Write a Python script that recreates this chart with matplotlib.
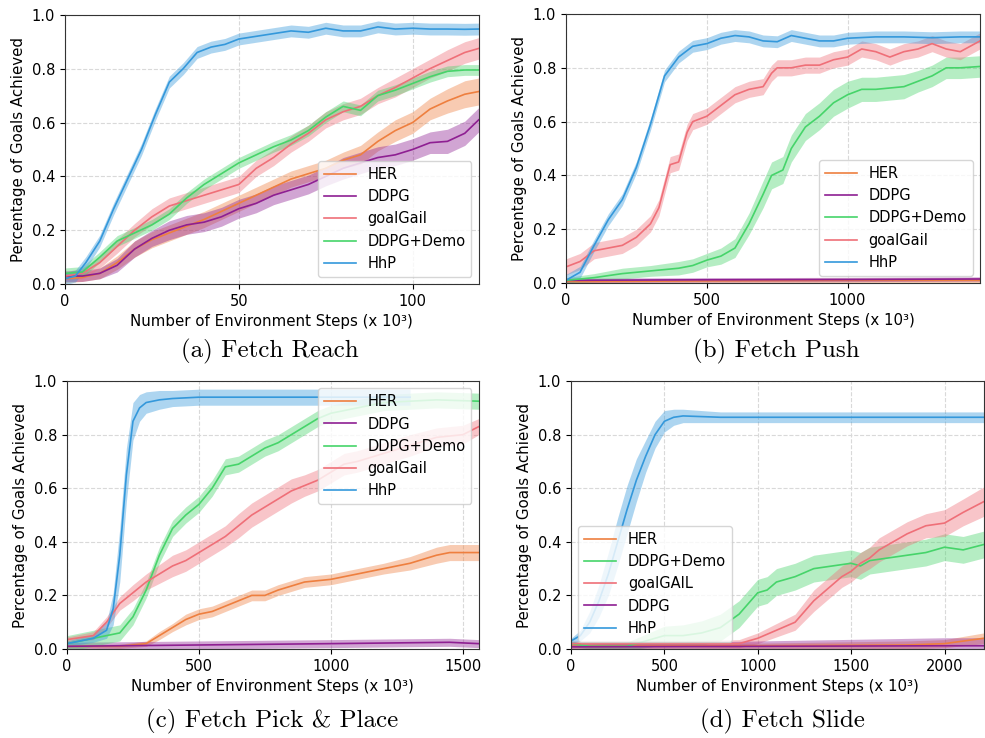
import numpy as np
import matplotlib
matplotlib.use("Agg")
import matplotlib.pyplot as plt

COLORS = {
    "HER": "#ee7f3f",
    "DDPG": "#8e1f92",
    "goalGail": "#ef6f78",
    "goalGAIL": "#ef6f78",
    "DDPG+Demo": "#46d46a",
    "HhP": "#3498db",
}

# ---------------- (a) Fetch Reach ----------------
a_x = [0, 5, 10, 15, 20, 25, 30, 35, 40, 45, 50, 55, 60, 65, 70, 75, 80, 85, 90, 95, 100, 105, 110, 115, 119]
a_her = [0.02, 0.025, 0.04, 0.08, 0.13, 0.165, 0.19, 0.215, 0.24, 0.27, 0.30, 0.33, 0.36, 0.39, 0.41, 0.43,
         0.46, 0.48, 0.53, 0.57, 0.60, 0.65, 0.68, 0.705, 0.715]
a_her_sd = [0.015, 0.015, 0.02, 0.025, 0.03, 0.03, 0.03, 0.03, 0.03, 0.03, 0.03, 0.03, 0.03, 0.03, 0.03, 0.03,
            0.03, 0.035, 0.035, 0.04, 0.04, 0.04, 0.045, 0.05, 0.05]
a_ddpg = [0.03, 0.03, 0.04, 0.07, 0.13, 0.17, 0.20, 0.22, 0.23, 0.25, 0.28, 0.30, 0.33, 0.35, 0.37, 0.40,
          0.43, 0.45, 0.47, 0.48, 0.50, 0.525, 0.53, 0.56, 0.61]
a_ddpg_sd = [0.02, 0.02, 0.02, 0.025, 0.03, 0.03, 0.035, 0.035, 0.035, 0.035, 0.035, 0.035, 0.035, 0.035,
             0.035, 0.035, 0.04, 0.04, 0.04, 0.04, 0.04, 0.04, 0.045, 0.045, 0.045]
a_gail = [0.03, 0.04, 0.08, 0.14, 0.20, 0.25, 0.29, 0.31, 0.33, 0.35, 0.37, 0.43, 0.47, 0.52, 0.56, 0.61,
          0.64, 0.66, 0.70, 0.73, 0.765, 0.80, 0.83, 0.86, 0.875]
a_gail_sd = [0.015, 0.02, 0.02, 0.025, 0.025, 0.03, 0.03, 0.03, 0.03, 0.03, 0.03, 0.03, 0.03, 0.03, 0.03,
             0.03, 0.03, 0.03, 0.03, 0.035, 0.035, 0.035, 0.04, 0.04, 0.04]
a_demo = [0.04, 0.045, 0.10, 0.16, 0.19, 0.22, 0.26, 0.32, 0.37, 0.41, 0.45, 0.48, 0.51, 0.535, 0.57, 0.62,
          0.66, 0.645, 0.70, 0.72, 0.745, 0.77, 0.79, 0.795, 0.795]
a_demo_sd = 0.02
a_hhp_x = [0, 3, 6, 10, 14, 18, 22, 26, 30, 34, 38, 42, 46, 50, 55, 60, 65, 70, 75, 80, 85, 90, 95, 100,
           105, 110, 115, 119]
a_hhp = [0.02, 0.03, 0.08, 0.16, 0.28, 0.39, 0.50, 0.63, 0.75, 0.80, 0.86, 0.88, 0.89, 0.91, 0.92, 0.93,
         0.94, 0.935, 0.95, 0.94, 0.94, 0.955, 0.947, 0.95, 0.947, 0.947, 0.946, 0.947]
a_hhp_sd = 0.022

# ---------------- (b) Fetch Push ----------------
b_flat_x = [0, 500, 1000, 1470]
b_her = [0.005, 0.008, 0.01, 0.01]
b_ddpg = [0.01, 0.012, 0.013, 0.015]
b_demo_x = [0, 100, 200, 300, 400, 450, 500, 550, 600, 650, 700, 730, 770, 800, 850, 900, 950, 1000, 1050,
            1100, 1200, 1250, 1300, 1350, 1400, 1470]
b_demo = [0.01, 0.02, 0.035, 0.045, 0.055, 0.065, 0.085, 0.10, 0.13, 0.22, 0.33, 0.40, 0.42, 0.50, 0.58,
          0.62, 0.67, 0.70, 0.72, 0.72, 0.73, 0.75, 0.77, 0.80, 0.80, 0.805]
b_demo_sd = [0.01, 0.015, 0.02, 0.02, 0.025, 0.025, 0.025, 0.03, 0.035, 0.04, 0.05, 0.05, 0.05, 0.05, 0.05,
             0.05, 0.05, 0.05, 0.045, 0.045, 0.045, 0.04, 0.04, 0.04, 0.04, 0.04]
b_gail_x = [0, 50, 100, 150, 200, 250, 300, 330, 350, 370, 400, 430, 450, 500, 550, 600, 650, 700, 730, 750,
            800, 850, 900, 950, 1000, 1050, 1100, 1150, 1200, 1250, 1300, 1350, 1400, 1470]
b_gail = [0.06, 0.08, 0.12, 0.13, 0.14, 0.17, 0.22, 0.28, 0.36, 0.44, 0.45, 0.56, 0.60, 0.62, 0.66, 0.70,
          0.72, 0.73, 0.78, 0.80, 0.80, 0.81, 0.81, 0.83, 0.84, 0.87, 0.86, 0.84, 0.86, 0.87, 0.89, 0.87,
          0.86, 0.90]
b_gail_sd = 0.03
b_hhp_x = [0, 50, 100, 150, 200, 250, 300, 350, 400, 450, 500, 550, 600, 650, 700, 750, 800, 850, 900,
           950, 1000, 1100, 1200, 1300, 1400, 1470]
b_hhp = [0.01, 0.04, 0.14, 0.235, 0.31, 0.43, 0.59, 0.77, 0.84, 0.88, 0.89, 0.91, 0.92, 0.915, 0.90,
         0.897, 0.92, 0.91, 0.90, 0.90, 0.91, 0.915, 0.915, 0.912, 0.915, 0.915]
b_hhp_sd = 0.022

# ---------------- (c) Fetch Pick & Place ----------------
c_her_x = [0, 200, 300, 350, 400, 450, 500, 550, 600, 650, 700, 750, 800, 900, 1000, 1100, 1200, 1300,
           1400, 1450, 1500, 1560]
c_her = [0.01, 0.01, 0.02, 0.05, 0.08, 0.11, 0.13, 0.14, 0.16, 0.18, 0.20, 0.20, 0.22, 0.25, 0.26, 0.28,
         0.30, 0.32, 0.35, 0.36, 0.36, 0.36]
c_her_sd = [0.005, 0.008, 0.01, 0.015, 0.015, 0.02, 0.02, 0.02, 0.02, 0.02, 0.02, 0.02, 0.02, 0.02, 0.02,
            0.02, 0.02, 0.025, 0.03, 0.03, 0.03, 0.03]
c_ddpg_x = [0, 500, 1000, 1450, 1560]
c_ddpg = [0.01, 0.015, 0.02, 0.025, 0.02]
c_ddpg_sd = 0.015
c_demo_x = [0, 100, 150, 200, 250, 300, 350, 400, 450, 500, 550, 600, 650, 700, 750, 800, 850, 900, 950,
            1000, 1100, 1200, 1300, 1400, 1560]
c_demo = [0.02, 0.04, 0.05, 0.06, 0.12, 0.22, 0.35, 0.45, 0.50, 0.54, 0.60, 0.68, 0.69, 0.72, 0.75, 0.77,
          0.80, 0.83, 0.86, 0.88, 0.90, 0.92, 0.925, 0.93, 0.925]
c_demo_sd = 0.03
c_gail_x = [0, 100, 150, 200, 250, 300, 350, 400, 450, 500, 550, 600, 650, 700, 750, 800, 850, 900, 950,
            1000, 1050, 1100, 1200, 1300, 1400, 1500, 1560]
c_gail = [0.035, 0.05, 0.10, 0.17, 0.21, 0.25, 0.28, 0.31, 0.33, 0.36, 0.39, 0.42, 0.46, 0.50, 0.53, 0.56,
          0.59, 0.61, 0.63, 0.66, 0.69, 0.70, 0.73, 0.76, 0.79, 0.80, 0.83]
c_gail_sd = [0.01, 0.015, 0.02, 0.025, 0.03, 0.03, 0.035, 0.04, 0.04, 0.04, 0.04, 0.04, 0.045, 0.045,
             0.045, 0.045, 0.045, 0.04, 0.04, 0.04, 0.04, 0.04, 0.04, 0.04, 0.035, 0.035, 0.03]
c_hhp_x = [0, 100, 150, 175, 200, 225, 250, 275, 300, 350, 400, 500, 600, 700, 800, 900, 1000, 1100,
           1200, 1300]
c_hhp = [0.02, 0.04, 0.07, 0.15, 0.35, 0.65, 0.85, 0.90, 0.92, 0.93, 0.935, 0.94, 0.94, 0.94, 0.94, 0.94,
         0.94, 0.94, 0.94, 0.94]
c_hhp_sd = [0.01, 0.015, 0.03, 0.06, 0.10, 0.10, 0.07, 0.05, 0.04, 0.035, 0.03, 0.03, 0.03, 0.03, 0.03,
            0.03, 0.03, 0.03, 0.03, 0.03]

# ---------------- (d) Fetch Slide ----------------
d_her_x = [0, 1000, 1800, 2000, 2210]
d_her = [0.01, 0.012, 0.015, 0.02, 0.04]
d_her_sd = [0.01, 0.01, 0.015, 0.015, 0.02]
d_demo_x = [0, 100, 300, 400, 500, 600, 700, 800, 900, 950, 1000, 1050, 1100, 1200, 1300, 1400, 1500,
            1550, 1600, 1700, 1800, 1900, 2000, 2100, 2210]
d_demo = [0.02, 0.01, 0.01, 0.03, 0.05, 0.05, 0.06, 0.08, 0.13, 0.17, 0.21, 0.22, 0.25, 0.27, 0.30, 0.31,
          0.32, 0.31, 0.33, 0.34, 0.35, 0.36, 0.38, 0.37, 0.39]
d_demo_sd = [0.01, 0.01, 0.015, 0.025, 0.035, 0.04, 0.045, 0.05, 0.05, 0.05, 0.05, 0.05, 0.05, 0.05, 0.05,
             0.05, 0.05, 0.05, 0.05, 0.05, 0.05, 0.05, 0.05, 0.05, 0.05]
d_gail_x = [0, 300, 600, 900, 1000, 1100, 1200, 1250, 1300, 1350, 1400, 1450, 1500, 1550, 1600, 1650,
            1700, 1800, 1900, 2000, 2100, 2210]
d_gail = [0.02, 0.02, 0.02, 0.02, 0.04, 0.07, 0.10, 0.14, 0.18, 0.21, 0.24, 0.27, 0.29, 0.32, 0.34, 0.37,
          0.39, 0.43, 0.46, 0.47, 0.51, 0.55]
d_gail_sd = [0.01, 0.01, 0.01, 0.015, 0.02, 0.025, 0.03, 0.035, 0.04, 0.04, 0.04, 0.04, 0.04, 0.04, 0.04,
             0.045, 0.045, 0.045, 0.045, 0.05, 0.05, 0.055]
d_ddpg_x = [0, 1000, 2000, 2210]
d_ddpg = [0.008, 0.01, 0.012, 0.012]
d_ddpg_sd = [0.01, 0.02, 0.03, 0.03]
d_hhp_x = [0, 50, 100, 150, 200, 250, 300, 350, 400, 450, 500, 550, 600, 800, 1000, 1200, 1400, 1600,
           1800, 2000, 2210]
d_hhp = [0.03, 0.05, 0.10, 0.18, 0.28, 0.40, 0.52, 0.63, 0.72, 0.80, 0.85, 0.865, 0.87, 0.865, 0.865,
         0.865, 0.865, 0.865, 0.865, 0.865, 0.865]
d_hhp_sd = [0.01, 0.02, 0.04, 0.06, 0.08, 0.09, 0.09, 0.08, 0.06, 0.05, 0.04, 0.03, 0.025, 0.02, 0.02,
            0.02, 0.02, 0.02, 0.02, 0.02, 0.02]


def draw_series(ax, name, x, mean, sd):
    x = np.asarray(x, dtype=float)
    mean = np.asarray(mean, dtype=float)
    sd = np.broadcast_to(np.asarray(sd, dtype=float), mean.shape)
    c = COLORS[name]
    ax.fill_between(x, mean - sd, mean + sd, color=c, alpha=0.4, linewidth=0)
    ax.plot(x, mean, color=c, linewidth=1.2, label=name)


def style_ax(ax, xmax, xticks, legend_loc):
    ax.set_xlim(0, xmax)
    ax.set_ylim(0, 1.0)
    ax.set_xticks(xticks)
    ax.set_yticks([0.0, 0.2, 0.4, 0.6, 0.8, 1.0])
    ax.tick_params(labelsize=10.5)
    ax.grid(True, linestyle="--", color="#d9d9d9", linewidth=0.8)
    ax.set_axisbelow(True)
    ax.set_xlabel("Number of Environment Steps (x 10³)", fontsize=10.8)
    ax.set_ylabel("Percentage of Goals Achieved", fontsize=10.8)
    ax.legend(loc=legend_loc, fontsize=10.5, framealpha=0.8, handlelength=2.2)
    for s in ax.spines.values():
        s.set_color("#333333")


fig = plt.figure(figsize=(9.85, 7.38), dpi=100)

# (a)
ax = fig.add_axes([0.066, 0.615, 0.420, 0.365])
draw_series(ax, "HER", a_x, a_her, a_her_sd)
draw_series(ax, "DDPG", a_x, a_ddpg, a_ddpg_sd)
draw_series(ax, "goalGail", a_x, a_gail, a_gail_sd)
draw_series(ax, "DDPG+Demo", a_x, a_demo, a_demo_sd)
draw_series(ax, "HhP", a_hhp_x, a_hhp, a_hhp_sd)
style_ax(ax, 119, [0, 50, 100], "lower right")

# (b)
ax = fig.add_axes([0.5746, 0.6165, 0.4203, 0.3645])
draw_series(ax, "HER", b_flat_x, b_her, 0.008)
draw_series(ax, "DDPG", b_flat_x, b_ddpg, 0.008)
draw_series(ax, "DDPG+Demo", b_demo_x, b_demo, b_demo_sd)
draw_series(ax, "goalGail", b_gail_x, b_gail, b_gail_sd)
draw_series(ax, "HhP", b_hhp_x, b_hhp, b_hhp_sd)
style_ax(ax, 1470, [0, 500, 1000], "lower right")

# (c)
ax = fig.add_axes([0.068, 0.1206, 0.418, 0.363])
draw_series(ax, "HER", c_her_x, c_her, c_her_sd)
draw_series(ax, "DDPG", c_ddpg_x, c_ddpg, c_ddpg_sd)
draw_series(ax, "DDPG+Demo", c_demo_x, c_demo, c_demo_sd)
draw_series(ax, "goalGail", c_gail_x, c_gail, c_gail_sd)
draw_series(ax, "HhP", c_hhp_x, c_hhp, c_hhp_sd)
style_ax(ax, 1560, [0, 500, 1000, 1500], "upper right")

# (d)
ax = fig.add_axes([0.5797, 0.1206, 0.419, 0.363])
draw_series(ax, "HER", d_her_x, d_her, d_her_sd)
draw_series(ax, "DDPG+Demo", d_demo_x, d_demo, d_demo_sd)
draw_series(ax, "goalGAIL", d_gail_x, d_gail, d_gail_sd)
draw_series(ax, "DDPG", d_ddpg_x, d_ddpg, d_ddpg_sd)
draw_series(ax, "HhP", d_hhp_x, d_hhp, d_hhp_sd)
style_ax(ax, 2210, [0, 500, 1000, 1500, 2000], "lower left")

captions = [
    (0.274, 0.524, "(a) Fetch Reach"),
    (0.788, 0.524, "(b) Fetch Push"),
    (0.276, 0.023, "(c) Fetch Pick & Place"),
    (0.794, 0.023, "(d) Fetch Slide"),
]
for cx, cy, txt in captions:
    fig.text(cx, cy, txt, ha="center", va="center", fontsize=18, fontfamily="cmr10")

fig.savefig("out.png", dpi=100)
